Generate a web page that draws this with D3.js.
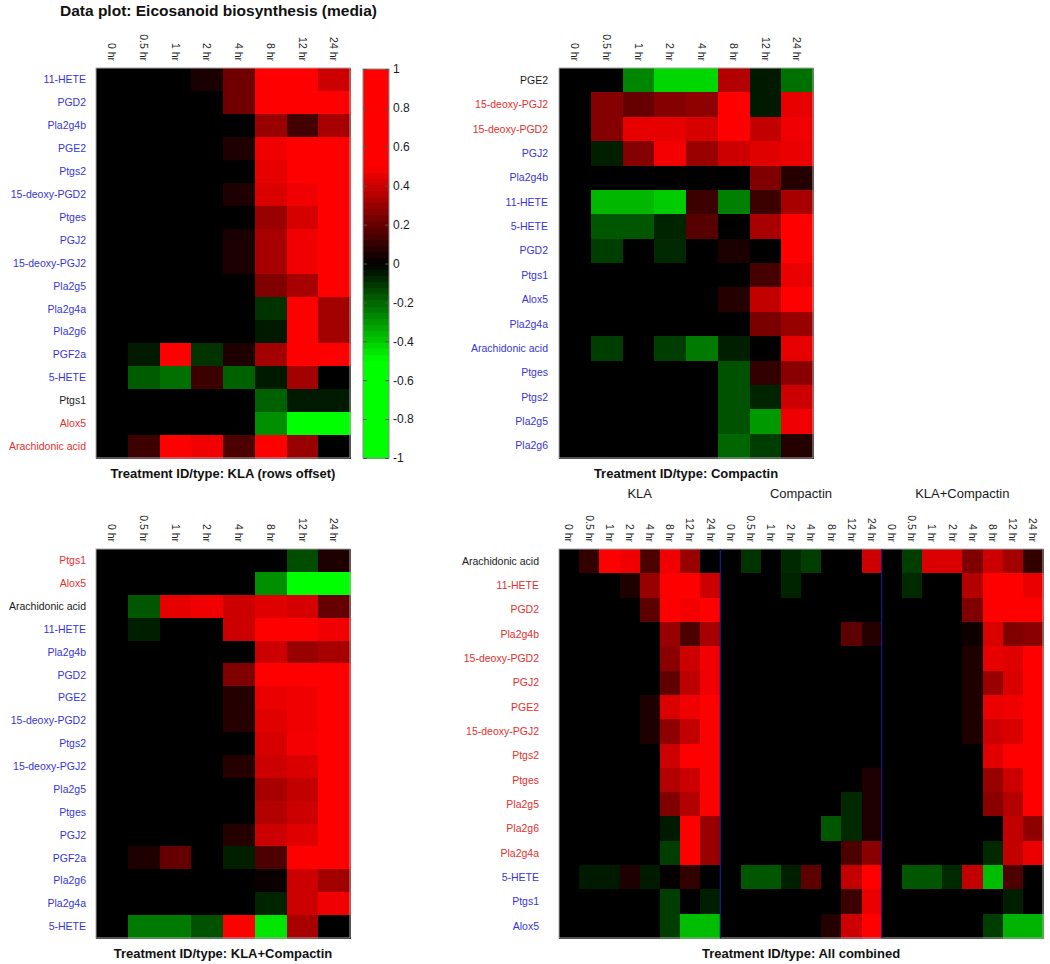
<!DOCTYPE html>
<html><head><meta charset="utf-8">
<script src="https://cdn.jsdelivr.net/npm/d3@7"></script>
<style>
html,body{margin:0;padding:0;background:#fff;}
svg{display:block;font-family:"Liberation Sans",Arial,sans-serif;}
</style></head>
<body><svg id="chart" width="1050" height="964"></svg>
<script>
// ---------------- DATA ----------------
const hours = ["0 hr","0.5 hr","1 hr","2 hr","4 hr","8 hr","12 hr","24 hr"];
const groups = ["KLA","Compactin","KLA+Compactin"];
const cbTicks = [1,0.8,0.6,0.4,0.2,0,-0.2,-0.4,-0.6,-0.8,-1];

// Panel 1: KLA (rows offset)
const klaRows = ["11-HETE","PGD2","Pla2g4b","PGE2","Ptgs2","15-deoxy-PGD2","Ptges","PGJ2","15-deoxy-PGJ2","Pla2g5","Pla2g4a","Pla2g6","PGF2a","5-HETE","Ptgs1","Alox5","Arachidonic acid"];
const klaLabelColors = ["b","b","b","b","b","b","b","b","b","b","b","b","b","b","k","r","r"];
const klaValues = [
  [0,0,0,0.05,0.22,1,1,0.4],
  [0,0,0,0,0.22,1,1,1],
  [0,0,0,0,0,0.3,0.13,0.33],
  [0,0,0,0,0.06,0.47,1,1],
  [0,0,0,0,0,0.45,0.5,1],
  [0,0,0,0,0.06,0.43,0.47,1],
  [0,0,0,0,0,0.3,0.42,1],
  [0,0,0,0,0.05,0.33,0.47,1],
  [0,0,0,0,0.05,0.33,0.47,1],
  [0,0,0,0,0,0.25,0.33,1],
  [0,0,0,0,0,-0.1,1,0.32],
  [0,0,0,0,0,-0.05,1,0.32],
  [0,-0.05,1,-0.1,0.06,0.32,1,1],
  [0,-0.18,-0.22,0.12,-0.19,-0.05,0.32,0],
  [0,0,0,0,0,-0.19,-0.05,-0.05],
  [0,0,0,0,0,-0.28,-0.9,-0.9],
  [0,0.12,1,0.47,0.15,1,0.3,0]
];

// Panel 2: Compactin
const compRows = ["PGE2","15-deoxy-PGJ2","15-deoxy-PGD2","PGJ2","Pla2g4b","11-HETE","5-HETE","PGD2","Ptgs1","Alox5","Pla2g4a","Arachidonic acid","Ptges","Ptgs2","Pla2g5","Pla2g6"];
const compLabelColors = ["k","r","r","b","b","b","b","b","b","b","b","b","b","b","b","b"];
const compValues = [
  [0,0,-0.26,-0.42,-0.42,0.35,-0.05,-0.22],
  [0,0.26,0.2,0.26,0.28,1,-0.05,0.45],
  [0,0.26,0.45,0.45,0.42,1,0.38,0.47],
  [0,-0.06,0.26,0.48,0.3,0.4,0.44,0.46],
  [0,0,0,0,0,0,0.25,0.07],
  [0,-0.36,-0.36,-0.4,0.12,-0.25,0.12,0.33],
  [0,-0.17,-0.17,-0.07,0.17,0,0.33,1],
  [0,-0.12,0,-0.08,0,0.05,0,1],
  [0,0,0,0,0,0,0.14,0.46],
  [0,0,0,0,0,0.07,0.38,1],
  [0,0,0,0,0,0,0.24,0.3],
  [0,-0.12,0,-0.12,-0.24,-0.06,0,0.45],
  [0,0,0,0,0,-0.16,0.1,0.27],
  [0,0,0,0,0,-0.16,-0.07,0.4],
  [0,0,0,0,0,-0.16,-0.3,0.47],
  [0,0,0,0,0,-0.2,-0.12,0.07]
];

// Panel 3: KLA+Compactin
const bothRows = ["Ptgs1","Alox5","Arachidonic acid","11-HETE","Pla2g4b","PGD2","PGE2","15-deoxy-PGD2","Ptgs2","15-deoxy-PGJ2","Pla2g5","Ptges","PGJ2","PGF2a","Pla2g6","Pla2g4a","5-HETE"];
const bothLabelColors = ["r","r","k","b","b","b","b","b","b","b","b","b","b","b","b","b","b"];
const bothValues = [
  [0,0,0,0,0,0,-0.15,0.06],
  [0,0,0,0,0,-0.28,-0.9,-0.9],
  [0,-0.17,0.45,0.47,0.4,0.44,0.42,0.2],
  [0,-0.06,0,0,0.4,1,1,0.47],
  [0,0,0,0,0,0.4,0.3,0.33],
  [0,0,0,0,0.25,1,1,1],
  [0,0,0,0,0.07,0.46,0.47,1],
  [0,0,0,0,0.07,0.44,0.47,1],
  [0,0,0,0,0,0.42,0.48,1],
  [0,0,0,0,0.07,0.4,0.43,1],
  [0,0,0,0,0,0.33,0.38,1],
  [0,0,0,0,0,0.35,0.4,1],
  [0,0,0,0,0.07,0.4,0.44,1],
  [0,0.06,0.2,0,-0.06,0.15,1,1],
  [0,0,0,0,0,0.02,0.4,0.32],
  [0,0,0,0,0,-0.07,0.4,0.47],
  [0,-0.24,-0.24,-0.16,1,-0.45,0.33,0]
];

// Panel 4: All combined (KLA | Compactin | KLA+Compactin)
const allRows = ["Arachidonic acid","11-HETE","PGD2","Pla2g4b","15-deoxy-PGD2","PGJ2","PGE2","15-deoxy-PGJ2","Ptgs2","Ptges","Pla2g5","Pla2g6","Pla2g4a","5-HETE","Ptgs1","Alox5"];
const allLabelColors = ["k","r","r","r","r","r","r","r","r","r","r","r","r","b","b","b"];
const allValues = [
  [0,0.1,1,0.47,0.15,0.47,0.3,0,   0,-0.1,0,-0.08,-0.12,0,0,0.4,   0,-0.12,0.43,0.43,0.25,0.4,0.32,0.1],
  [0,0,0,0.06,0.3,1,1,0.4,         0,0,0,-0.07,0,0,0,0,            0,-0.08,0,0,0.35,1,1,0.46],
  [0,0,0,0,0.18,1,0.48,1,          0,0,0,0,0,0,0,0,                0,0,0,0,0.25,1,1,1],
  [0,0,0,0,0,0.3,0.15,0.33,        0,0,0,0,0,0,0.18,0.07,          0,0,0,0,0.03,0.43,0.25,0.27],
  [0,0,0,0,0,0.27,0.4,0.47,        0,0,0,0,0,0,0,0,                0,0,0,0,0.06,0.45,0.44,1],
  [0,0,0,0,0,0.19,0.37,0.47,       0,0,0,0,0,0,0,0,                0,0,0,0,0.06,0.3,0.43,1],
  [0,0,0,0,0.06,0.43,0.47,1,       0,0,0,0,0,0,0,0,                0,0,0,0,0.06,0.46,0.47,1],
  [0,0,0,0,0.06,0.28,0.38,1,       0,0,0,0,0,0,0,0,                0,0,0,0,0.06,0.4,0.43,1],
  [0,0,0,0,0,0.4,0.5,1,            0,0,0,0,0,0,0,0,                0,0,0,0,0,0.44,0.5,1],
  [0,0,0,0,0,0.35,0.4,1,           0,0,0,0,0,0,0,0.06,             0,0,0,0,0,0.3,0.4,1],
  [0,0,0,0,0,0.25,0.35,1,          0,0,0,0,0,0,-0.08,0.06,         0,0,0,0,0,0.27,0.35,1],
  [0,0,0,0,0,-0.05,1,0.3,          0,0,0,0,0,-0.17,-0.08,0.06,     0,0,0,0,0,0,0.38,0.28],
  [0,0,0,0,0,-0.12,1,0.3,          0,0,0,0,0,0,0.15,0.27,          0,0,0,0,0,-0.08,0.38,0.46],
  [0,-0.05,-0.05,0.06,-0.05,0.01,0.1,0, 0,-0.17,-0.17,-0.06,0.18,0,0.38,1, 0,-0.17,-0.17,-0.08,0.38,-0.37,0.15,0],
  [0,0,0,0,0,-0.12,0,-0.06,        0,0,0,0,0,0,0.12,0.46,          0,0,0,0,0,0,-0.06,0],
  [0,0,0,0,0,-0.12,-0.37,-0.37,    0,0,0,0,0,0.07,0.4,1,           0,0,0,0,0,-0.12,-0.35,-0.35]
];

// ---------------- DRAWING ----------------
const svg = d3.select("#chart");
const FONT = '"Liberation Sans",Arial,sans-serif';
const labelColorMap = {b:"#3636d8", r:"#e6302c", k:"#1a1a1a"};
const color = d3.scaleLinear().domain([-0.5,0,0.5]).range(["#00ff00","#000000","#ff0000"]).clamp(true);

svg.append("text").attr("x",60).attr("y",16)
  .attr("font-size",15.5).attr("font-weight","bold").attr("fill","#111")
  .text("Data plot: Eicosanoid biosynthesis (media)");

function panel(cfg){
  const g = svg.append("g");
  const cols = cfg.cols;
  const x = d3.scaleBand().domain(d3.range(cols.length)).range([cfg.x0,cfg.x1]);
  const y = d3.scaleBand().domain(d3.range(cfg.rows.length)).range([cfg.y0,cfg.y1]);
  cfg.values.forEach((row,ri)=>{
    g.selectAll(null).data(row).enter().append("rect")
      .attr("x",(d,ci)=>x(ci)).attr("y",y(ri))
      .attr("width",x.bandwidth()+0.6).attr("height",y.bandwidth()+0.6)
      .attr("fill",d=>color(d)).attr("shape-rendering","crispEdges");
  });
  g.append("rect").attr("x",cfg.x0).attr("y",cfg.y0)
    .attr("width",cfg.x1-cfg.x0).attr("height",cfg.y1-cfg.y0)
    .attr("fill","none").attr("stroke","#a8a8a8").attr("stroke-width",1);
  (cfg.separators||[]).forEach(ci=>{
    g.append("line").attr("x1",x(ci)).attr("x2",x(ci))
      .attr("y1",cfg.y0).attr("y2",cfg.y1).attr("stroke","#1c1c8a").attr("stroke-width",1.2);
  });
  // row labels
  g.selectAll(null).data(cfg.rows).enter().append("text")
    .attr("x",cfg.labelX).attr("y",(d,i)=>y(i)+y.bandwidth()/2).attr("dy","0.35em")
    .attr("text-anchor","end").attr("font-size",10.5)
    .attr("fill",(d,i)=>labelColorMap[cfg.labelColors[i]]).text(d=>d);
  // column labels
  g.selectAll(null).data(cols).enter().append("text")
    .attr("transform",(d,i)=>`translate(${x(i)+x.bandwidth()/2},${cfg.colEnd}) rotate(90)`)
    .attr("dy","0.35em").attr("text-anchor","end").attr("font-size",10.5).attr("fill","#1a1a1a")
    .text(d=>d);
  // subtitle
  g.append("text").attr("x",(cfg.x0+cfg.x1)/2).attr("y",cfg.subY)
    .attr("text-anchor","middle").attr("font-size",13).attr("font-weight","bold").attr("fill","#111")
    .text(cfg.subtitle);
  return x;
}

panel({rows:klaRows,labelColors:klaLabelColors,values:klaValues,cols:hours,
  x0:96,x1:350,y0:68,y1:458,labelX:86,colEnd:61,subY:478,
  subtitle:"Treatment ID/type: KLA (rows offset)"});
panel({rows:compRows,labelColors:compLabelColors,values:compValues,cols:hours,
  x0:559,x1:813,y0:68,y1:458,labelX:548,colEnd:61,subY:478,
  subtitle:"Treatment ID/type: Compactin"});
panel({rows:bothRows,labelColors:bothLabelColors,values:bothValues,cols:hours,
  x0:96,x1:350,y0:549,y1:938,labelX:86,colEnd:542,subY:958,
  subtitle:"Treatment ID/type: KLA+Compactin"});
const allCols = groups.flatMap(()=>hours);
const xAll = panel({rows:allRows,labelColors:allLabelColors,values:allValues,cols:allCols,
  x0:559,x1:1043,y0:549,y1:938,labelX:539,colEnd:542,subY:958,separators:[8,16],
  subtitle:"Treatment ID/type: All combined"});
svg.selectAll(null).data(groups).enter().append("text")
  .attr("x",(d,i)=>(xAll(i*8)+xAll(i*8+7)+xAll.bandwidth())/2).attr("y",498)
  .attr("text-anchor","middle").attr("font-size",13).attr("fill","#1a1a1a").text(d=>d);

// colorbar
const cb = svg.append("g");
const cy = d3.scaleLinear().domain([-1,1]).range([458,69]);
const nSteps = 64;
const steps = d3.range(nSteps).map(i=>-1 + (i+0.5)*2/nSteps);
cb.selectAll(null).data(steps).enter().append("rect")
  .attr("x",363).attr("width",26)
  .attr("y",d=>cy(d+1/nSteps)).attr("height",Math.abs(cy(0)-cy(2/nSteps))+0.5)
  .attr("fill",d=>color(d)).attr("shape-rendering","crispEdges");
cb.append("rect").attr("x",363).attr("y",69).attr("width",26).attr("height",389)
  .attr("fill","none").attr("stroke","#8a8a8a");
const axR = d3.axisRight(cy).tickValues(cbTicks).tickSize(-4).tickPadding(4)
  .tickFormat(d=>String(+d.toFixed(1)));
const axG = cb.append("g").attr("transform","translate(389,0)").call(axR);
axG.select(".domain").remove();
axG.selectAll("line").attr("stroke","#555");
axG.selectAll("text").attr("font-size",12).attr("fill","#1a1a1a").attr("font-family",FONT);
const axL = d3.axisLeft(cy).tickValues(cbTicks).tickSize(-4).tickFormat("");
const axLG = cb.append("g").attr("transform","translate(363,0)").call(axL);
axLG.select(".domain").remove();
axLG.selectAll("line").attr("stroke","#555");
</script></body></html>
